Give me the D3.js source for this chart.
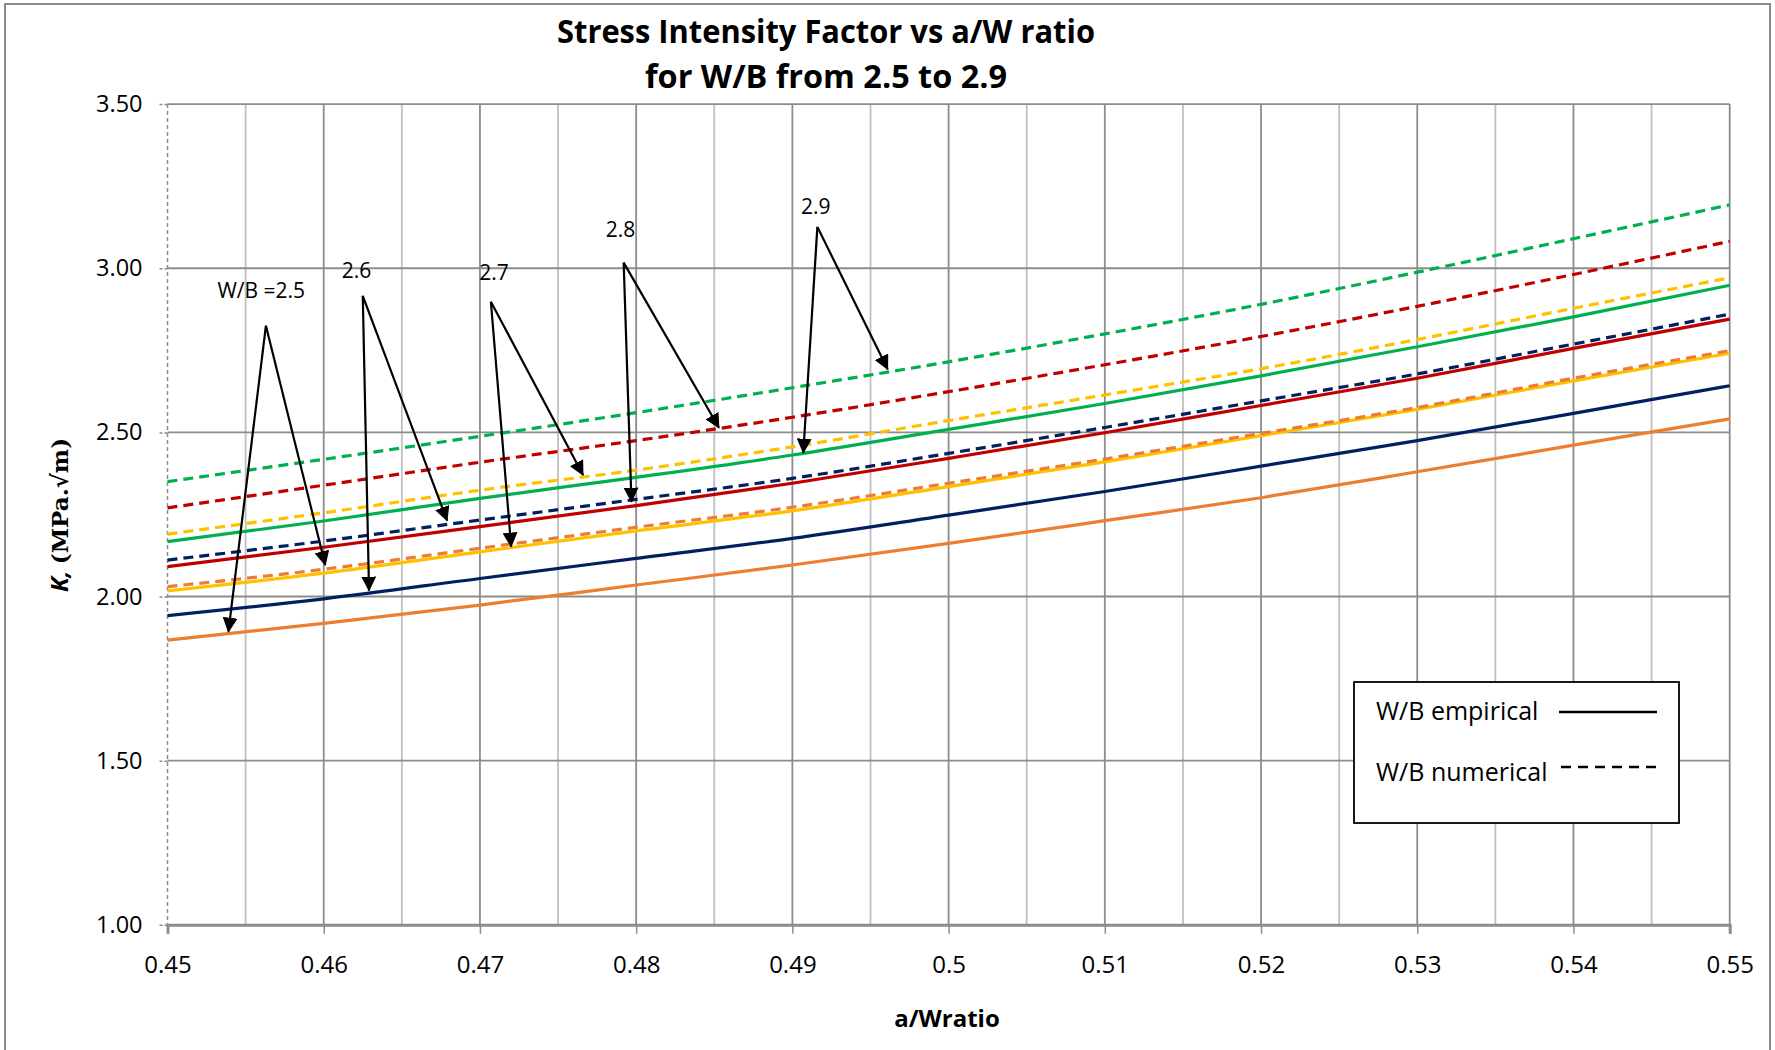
<!DOCTYPE html>
<html>
<head>
<meta charset="utf-8">
<script src="https://cdn.jsdelivr.net/npm/d3@7"></script>
<style>
  html, body { margin: 0; padding: 0; background: #fff; }
  svg { display: block; font-family: "Open Sans", sans-serif; }
</style>
</head>
<body>
<svg id="chart" width="1775" height="1050"></svg>
<script>
// a/W ratio sampled every 0.01
var aW = [0.45, 0.46, 0.47, 0.48, 0.49, 0.50, 0.51, 0.52, 0.53, 0.54, 0.55];

// K values, MPa.sqrt(m)
var emp25 = [1.867, 1.918, 1.974, 2.035, 2.096, 2.162, 2.231, 2.301, 2.380, 2.461, 2.541];
var emp26 = [1.942, 1.993, 2.055, 2.116, 2.177, 2.248, 2.320, 2.397, 2.475, 2.558, 2.642];
var emp27 = [2.017, 2.071, 2.136, 2.200, 2.261, 2.335, 2.410, 2.490, 2.570, 2.657, 2.741];
var emp28 = [2.091, 2.150, 2.213, 2.277, 2.345, 2.421, 2.499, 2.582, 2.665, 2.756, 2.845];
var emp29 = [2.167, 2.230, 2.299, 2.363, 2.431, 2.509, 2.588, 2.672, 2.761, 2.852, 2.948];

var num25 = [2.030, 2.083, 2.147, 2.211, 2.272, 2.345, 2.419, 2.497, 2.576, 2.665, 2.749];
var num26 = [2.111, 2.169, 2.233, 2.296, 2.360, 2.436, 2.515, 2.596, 2.678, 2.769, 2.860];
var num27 = [2.190, 2.255, 2.324, 2.385, 2.456, 2.536, 2.614, 2.694, 2.783, 2.878, 2.971];
var num28 = [2.270, 2.339, 2.409, 2.475, 2.546, 2.624, 2.706, 2.792, 2.884, 2.981, 3.082];
var num29 = [2.350, 2.418, 2.488, 2.560, 2.636, 2.715, 2.800, 2.890, 2.988, 3.090, 3.193];

var wbRatios = ['2.5', '2.6', '2.7', '2.8', '2.9'];
var wbColors = ['#ED7D31', '#002060', '#FFC000', '#C00000', '#00B050'];
var empiricalSeries = [emp25, emp26, emp27, emp28, emp29];
var numericalSeries = [num25, num26, num27, num28, num29];

var yTicks = [1.00, 1.50, 2.00, 2.50, 3.00, 3.50];
var xTicks = [0.45, 0.46, 0.47, 0.48, 0.49, 0.50, 0.51, 0.52, 0.53, 0.54, 0.55];
var xTickLabels = ['0.45', '0.46', '0.47', '0.48', '0.49', '0.5', '0.51', '0.52', '0.53', '0.54', '0.55'];

// annotation labels and the two arrows (empirical, numerical) for each W/B
var annoLabels = ['W/B =2.5', '2.6', '2.7', '2.8', '2.9'];
var annoText = [[0.4560, 2.909], [0.4621, 2.971], [0.4709, 2.965], [0.4790, 3.095], [0.4915, 3.165]];
var annoApex = [[0.4563, 2.825], [0.4625, 2.916], [0.4707, 2.898], [0.4792, 3.017], [0.4916, 3.126]];
var tipEmp = [[0.4539, 1.893], [0.4629, 2.018], [0.4720, 2.152], [0.4797, 2.289], [0.4907, 2.438]];
var tipNum = [[0.4601, 2.096], [0.4679, 2.231], [0.4766, 2.370], [0.4853, 2.514], [0.4961, 2.692]];

(function () {
	'use strict';

	var svg = d3.select('#chart');
	var pLeft = 167.5, pRight = 1729.7, pTop = 104.1, pBottom = 924.8;

	var x = d3.scaleLinear().domain([0.45, 0.55]).range([pLeft, pRight]);
	var y = d3.scaleLinear().domain([1, 3.5]).range([pBottom, pTop]);

	svg.append('rect').attr('width', 1775).attr('height', 1050).attr('fill', '#fff');
	svg.append('rect')
		.attr('x', 5).attr('y', 4).attr('width', 1765).attr('height', 1080)
		.attr('fill', 'none').attr('stroke', '#8c8c8c').attr('stroke-width', 2);

	// title
	var title = svg.append('g').attr('font-weight', 'bold').attr('text-anchor', 'middle').attr('fill', '#000');
	title.append('text').attr('x', 826).attr('y', 43).attr('font-size', 32)
		.attr('textLength', 538).attr('lengthAdjust', 'spacingAndGlyphs')
		.text('Stress Intensity Factor vs a/W ratio');
	title.append('text').attr('x', 826).attr('y', 88).attr('font-size', 32)
		.attr('textLength', 362).attr('lengthAdjust', 'spacingAndGlyphs')
		.text('for W/B from 2.5 to 2.9');

	// vertical grid, minor every 0.005 lighter
	var grid = svg.append('g');
	var vLines = d3.range(1, 21).map(function (i) { return 0.45 + i * 0.005; });
	grid.selectAll('line.v')
		.data(vLines)
		.enter().append('line')
		.attr('x1', function (d) { return x(d); })
		.attr('x2', function (d) { return x(d); })
		.attr('y1', pTop).attr('y2', pBottom)
		.attr('stroke', function (d, i) { return i % 2 ? '#8c8c8c' : '#bfbfbf'; })
		.attr('stroke-width', 1.8);

	grid.selectAll('line.h')
		.data(yTicks.slice(1))
		.enter().append('line')
		.attr('x1', pLeft).attr('x2', pRight)
		.attr('y1', function (d) { return y(d); })
		.attr('y2', function (d) { return y(d); })
		.attr('stroke', '#8c8c8c')
		.attr('stroke-width', 1.8);

	// left axis (dashed) and ticks
	svg.append('line')
		.attr('x1', pLeft).attr('x2', pLeft).attr('y1', pTop).attr('y2', pBottom)
		.attr('stroke', '#8c8c8c').attr('stroke-width', 1.5).attr('stroke-dasharray', '4,3');

	var yAxis = d3.axisLeft(y).tickValues(yTicks).tickFormat(d3.format('.2f')).tickSize(9).tickPadding(16);
	var gy = svg.append('g').attr('transform', 'translate(' + pLeft + ',0)').call(yAxis);
	gy.select('.domain').remove();
	gy.selectAll('.tick line').attr('stroke', '#8c8c8c').attr('stroke-width', 1.5).attr('stroke-dasharray', '3,2');
	gy.selectAll('.tick text').attr('font-size', 23.5).attr('fill', '#000')
		.attr('font-family', '"Open Sans", sans-serif');

	var xAxis = d3.axisBottom(x).tickValues(xTicks)
		.tickFormat(function (d, i) { return xTickLabels[i]; })
		.tickSize(9).tickPadding(22);
	var gx = svg.append('g').attr('transform', 'translate(0,' + pBottom + ')').call(xAxis);
	gx.select('.domain').attr('stroke', '#8c8c8c').attr('stroke-width', 3);
	gx.selectAll('.tick line').attr('stroke', '#8c8c8c').attr('stroke-width', 1.5);
	gx.selectAll('.tick text').attr('font-size', 24).attr('fill', '#000')
		.attr('font-family', '"Open Sans", sans-serif');

	// axis titles
	svg.append('text')
		.attr('x', 947).attr('y', 1027)
		.attr('text-anchor', 'middle').attr('font-weight', 'bold').attr('font-size', 24)
		.text('a/Wratio');

	var yTitle = svg.append('text')
		.attr('transform', 'translate(68,515) rotate(-90)')
		.attr('text-anchor', 'middle').attr('font-weight', 'bold').attr('font-size', 24);
	yTitle.append('tspan').attr('font-style', 'italic').text('K, ');
	yTitle.append('tspan').attr('font-family', '"DejaVu Serif", serif').attr('font-size', 23).text('(MPa.\u221Am)');

	// series
	var line = d3.line()
		.x(function (d, i) { return x(aW[i]); })
		.y(function (d) { return y(d); })
		.curve(d3.curveMonotoneX);

	var plot = svg.append('g');
	plot.selectAll('path.emp')
		.data(empiricalSeries)
		.enter().append('path')
		.attr('class', 'emp')
		.attr('d', line)
		.attr('fill', 'none')
		.attr('stroke', function (d, i) { return wbColors[i]; })
		.attr('stroke-width', 3.2);

	plot.selectAll('path.num')
		.data(numericalSeries)
		.enter().append('path')
		.attr('class', 'num')
		.attr('d', line)
		.attr('fill', 'none')
		.attr('stroke', function (d, i) { return wbColors[i]; })
		.attr('stroke-width', 3.2)
		.attr('stroke-dasharray', '10,6');

	// arrows
	svg.append('defs').append('marker')
		.attr('id', 'arrowhead')
		.attr('markerUnits', 'userSpaceOnUse')
		.attr('viewBox', '0 0 15 15')
		.attr('refX', 14).attr('refY', 7.5)
		.attr('markerWidth', 15).attr('markerHeight', 15)
		.attr('orient', 'auto')
		.append('path').attr('d', 'M0,0 L15,7.5 L0,15 Z').attr('fill', '#000');

	var anno = svg.append('g');
	wbRatios.forEach(function (wb, i) {
		[tipEmp[i], tipNum[i]].forEach(function (tip) {
			anno.append('line')
				.attr('x1', x(annoApex[i][0])).attr('y1', y(annoApex[i][1]))
				.attr('x2', x(tip[0])).attr('y2', y(tip[1]))
				.attr('stroke', '#000').attr('stroke-width', 2.2)
				.attr('marker-end', 'url(#arrowhead)');
		});
		anno.append('text')
			.attr('x', x(annoText[i][0])).attr('y', y(annoText[i][1]))
			.attr('text-anchor', 'middle').attr('font-size', 21)
			.text(annoLabels[i]);
	});

	// legend
	var legend = svg.append('g');
	legend.append('rect')
		.attr('x', 1354).attr('y', 682).attr('width', 325).attr('height', 141)
		.attr('fill', '#fff').attr('stroke', '#000').attr('stroke-width', 1.8);
	legend.append('text').attr('x', 1376).attr('y', 720).attr('font-size', 25).text('W/B empirical');
	legend.append('text').attr('x', 1376).attr('y', 781).attr('font-size', 25).text('W/B numerical');
	legend.append('line').attr('x1', 1559).attr('x2', 1657).attr('y1', 712).attr('y2', 712)
		.attr('stroke', '#000').attr('stroke-width', 2.5);
	legend.append('line').attr('x1', 1561).attr('x2', 1657).attr('y1', 767).attr('y2', 767)
		.attr('stroke', '#000').attr('stroke-width', 2.5).attr('stroke-dasharray', '10,7');
})();
</script>
</body>
</html>
